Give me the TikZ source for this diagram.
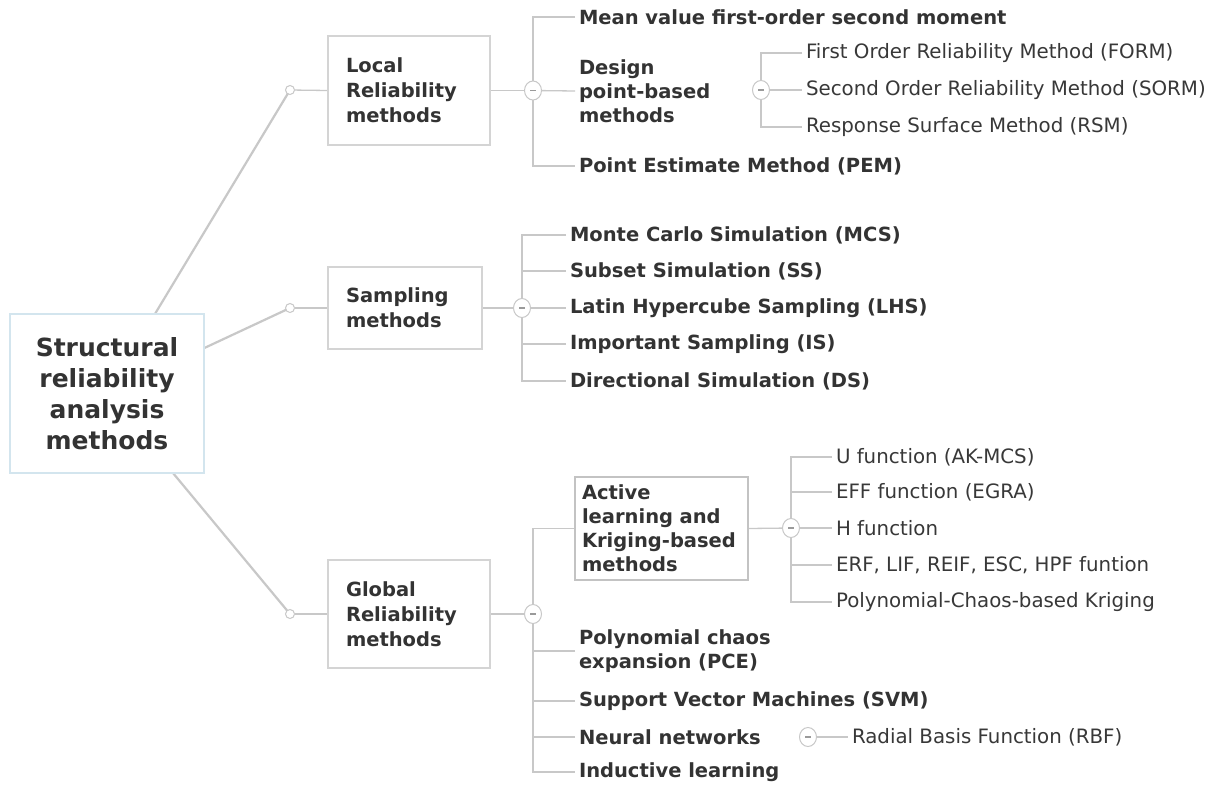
\documentclass[tikz,border=0pt]{standalone}
\usepackage{fontspec}
\setmainfont{DejaVu Sans}
\usetikzlibrary{shapes.geometric,backgrounds}
\definecolor{txt}{HTML}{333333}
\definecolor{txtr}{HTML}{383838}
\definecolor{boxc}{HTML}{D4D4D4}
\definecolor{rootc}{HTML}{D3E5EE}
\definecolor{linec}{HTML}{C8C8C8}
\definecolor{minc}{HTML}{9A9A9A}
\begin{document}
\begin{tikzpicture}[x=1pt,y=-1pt,
  bl/.style={anchor=west, inner sep=0pt, outer sep=4pt, font=\bfseries\fontsize{19.5}{24}\selectfont, text=txt, align=left},
  rg/.style={anchor=west, inner sep=0pt, outer sep=4pt, font=\fontsize{19.8}{23}\selectfont, text=txtr},
  mbox/.style={draw=boxc, line width=1.2pt, fill=white, inner xsep=18pt, inner ysep=0pt, align=left, font=\bfseries\fontsize{19.5}{25}\selectfont, text=txt},
  dot/.style={circle, draw=linec, fill=white, line width=1pt, minimum size=9pt, inner sep=0pt},
  col/.style={ellipse, draw=linec, fill=white, line width=1pt, minimum width=17pt, minimum height=19pt, inner sep=0pt, text=minc},
  conn/.style={draw=linec, line width=1.3pt},
  spoke/.style={draw=linec, line width=2.2pt}
]
\useasboundingbox (0,0) rectangle (1213,787);
% root
\node[draw=rootc, line width=1.2pt, fill=white, minimum width=194pt, minimum height=159pt, align=center, text=txt, font=\bfseries\fontsize{25}{31}\selectfont] (root) at (107,393.5) {Structural\\reliability\\analysis\\methods};
% end dots
\node[dot] (dL) at (290,90) {};
\node[dot] (dS) at (290,308) {};
\node[dot] (dG) at (290,614) {};
% level-1 boxes
\node[mbox, minimum width=162pt, minimum height=109pt, text width=126pt] (lbox) at (409,90.5) {Local\\Reliability\\methods};
\node[mbox, minimum width=154pt, minimum height=82pt, text width=118pt] (sbox) at (405,308) {Sampling\\methods};
\node[mbox, minimum width=162pt, minimum height=108pt, text width=126pt] (gbox) at (409,614) {Global\\Reliability\\methods};
% local children
\node[col] (cL) at (533,90.5) {\rule{6pt}{1.3pt}};
\node[bl] (mean) at (575,17) {Mean value first-order second moment};
\node[bl] (design) at (575,91) {Design\\point-based\\methods};
\node[bl] (pem) at (575,166) {Point Estimate Method (PEM)};
\node[col] (cD) at (761,90) {\rule{6pt}{1.3pt}};
\node[rg] (form) at (802,53) {First Order Reliability Method (FORM)};
\node[rg] (sorm) at (802,90) {Second Order Reliability Method (SORM)};
\node[rg] (rsm) at (802,127) {Response Surface Method (RSM)};
% sampling children
\node[col] (cS) at (522,308) {\rule{6pt}{1.3pt}};
\node[bl] (mcs) at (566,235) {Monte Carlo Simulation (MCS)};
\node[bl] (ss) at (566,271) {Subset Simulation (SS)};
\node[bl] (lhs) at (566,308) {Latin Hypercube Sampling (LHS)};
\node[bl] (is) at (566,344) {Important Sampling (IS)};
\node[bl] (ds) at (566,381) {Directional Simulation (DS)};
% global children
\node[col] (cG) at (533,614) {\rule{6pt}{1.3pt}};
\node[mbox, draw=boxc!80!gray, minimum width=173pt, minimum height=103pt, inner xsep=7pt, text width=159pt, font=\bfseries\fontsize{19.5}{24}\selectfont] (abox) at (661.5,528.5) {Active\\learning and\\Kriging-based\\methods};
\node[bl] (pce) at (575,651) {Polynomial chaos\\expansion (PCE)};
\node[bl] (svm) at (575,701) {Support Vector Machines (SVM)};
\node[bl] (nn) at (575,737) {Neural networks};
\node[bl] (ind) at (575,772) {Inductive learning};
\node[col] (cN) at (808,737) {\rule{6pt}{1.3pt}};
\node[rg] (rbf) at (848,737) {Radial Basis Function (RBF)};
\node[col] (cA) at (791,528) {\rule{6pt}{1.3pt}};
\node[rg] (uf) at (832,457) {U function (AK-MCS)};
\node[rg] (eff) at (832,492) {EFF function (EGRA)};
\node[rg] (hf) at (832,528) {H function};
\node[rg] (erf) at (832,565) {ERF, LIF, REIF, ESC, HPF funtion};
\node[rg] (pck) at (832,602) {Polynomial-Chaos-based Kriging};
% connectors
\begin{scope}[on background layer]
\fill[white] (0,0) rectangle (1213,787);
\draw[spoke] (root.center) -- (dL.center);
\draw[spoke] (root.center) -- (dS.center);
\draw[spoke] (root.center) -- (dG.center);
\draw[conn] (dL) -- (lbox.west);
\draw[conn] (dS) -- (sbox.west);
\draw[conn] (dG) -- (gbox.west);
% local
\draw[conn] (lbox.east) -- (cL);
\draw[conn] (mean.west) -| (cL.center) |- (pem.west);
\draw[conn] (cL) -- (design.west);
\draw[conn] (form.west) -| (cD.center) |- (rsm.west);
\draw[conn] (cD) -- (sorm.west);
% sampling
\draw[conn] (sbox.east) -- (cS);
\draw[conn] (mcs.west) -| (cS.center) |- (ds.west);
\draw[conn] (ss.west) -- (ss.west -| cS.center);
\draw[conn] (is.west) -- (is.west -| cS.center);
\draw[conn] (cS) -- (lhs.west);
% global
\draw[conn] (gbox.east) -- (cG);
\draw[conn] (abox.west) -| (cG.center) |- (ind.west);
\draw[conn] (pce.west) -- (pce.west -| cG.center);
\draw[conn] (svm.west) -- (svm.west -| cG.center);
\draw[conn] (nn.west) -- (nn.west -| cG.center);
\draw[conn] (cN) -- (rbf.west);
\draw[conn] (abox.east) -- (cA);
\draw[conn] (uf.west) -| (cA.center) |- (pck.west);
\draw[conn] (eff.west) -- (eff.west -| cA.center);
\draw[conn] (erf.west) -- (erf.west -| cA.center);
\draw[conn] (cA) -- (hf.west);
\end{scope}
\end{tikzpicture}
\end{document}
